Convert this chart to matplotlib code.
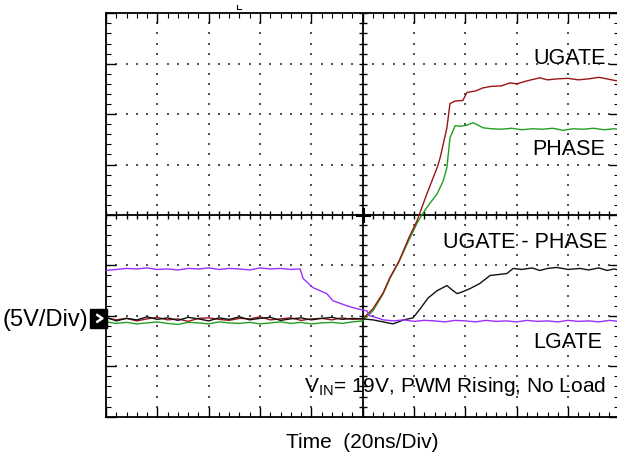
import numpy as np
import matplotlib.pyplot as plt
from matplotlib.patches import Rectangle

plt.rcParams['font.family'] = ['Liberation Sans', 'DejaVu Sans']
plt.rcParams['mathtext.fontset'] = 'custom'
plt.rcParams['mathtext.rm'] = 'Liberation Sans'

# traces, in scope divisions (x: 0..10, y: -4..4)
t_flat = [0.0, 0.2, 0.4, 0.6, 0.8, 1.0, 1.2, 1.4, 1.6, 1.8, 2.0, 2.2, 2.4,
          2.6, 2.8, 3.0, 3.2, 3.4, 3.6, 3.8, 4.0, 4.2, 4.4, 4.6, 4.8, 5.0]

ugate_t = t_flat + [5.2, 5.4, 5.53, 5.71, 5.9, 6.06, 6.25, 6.45, 6.51, 6.64, 6.70,
                    6.8, 6.95, 7.03, 7.2, 7.34, 7.5, 7.7, 7.87, 8.0, 8.2, 8.45, 8.6,
                    8.8, 9.0, 9.2, 9.4, 9.6, 9.8, 10.0]
ugate_v = [-2.04, -2.08, -2.05, -2.10, -2.06, -2.03, -2.08, -2.06, -2.11, -2.05,
           -2.04, -2.07, -2.09, -2.05, -2.06, -2.02, -2.08, -2.06, -2.04, -2.09,
           -2.06, -2.05, -2.08, -2.04, -2.07, -2.06,
           -1.86, -1.54, -1.24, -0.91, -0.45, -0.11, 0.42, 0.94, 1.14, 1.73, 2.21,
           2.26, 2.27, 2.43, 2.46, 2.52, 2.55, 2.56, 2.62, 2.60, 2.66, 2.72, 2.68,
           2.70, 2.71, 2.68, 2.70, 2.73, 2.69, 2.65]

phase_t = t_flat + [5.2, 5.4, 5.53, 5.71, 5.9, 6.06, 6.17, 6.3, 6.45, 6.57, 6.64,
                    6.70, 6.80, 6.9, 7.03, 7.15, 7.25, 7.34, 7.5, 7.7, 7.9, 8.1,
                    8.3, 8.5, 8.7, 8.9, 9.1, 9.3, 9.5, 9.7, 9.9, 10.0]
phase_v = [-2.12, -2.15, -2.13, -2.16, -2.14, -2.12, -2.15, -2.17, -2.13, -2.14,
           -2.16, -2.12, -2.14, -2.15, -2.13, -2.16, -2.14, -2.12, -2.15, -2.13,
           -2.16, -2.14, -2.13, -2.15, -2.12, -2.10,
           -1.90, -1.56, -1.26, -0.92, -0.50, -0.16, 0.03, 0.22, 0.42, 0.68, 0.94,
           1.53, 1.77, 1.76, 1.78, 1.83, 1.78, 1.73, 1.71, 1.70, 1.72, 1.69, 1.71,
           1.70, 1.72, 1.68, 1.71, 1.70, 1.72, 1.69, 1.71, 1.70]

diff_t = t_flat + [5.2, 5.4, 5.59, 5.8, 5.98, 6.12, 6.27, 6.45, 6.64, 6.76, 6.84,
                   6.95, 7.09, 7.28, 7.48, 7.65, 7.81, 7.93, 8.1, 8.3, 8.45, 8.6,
                   8.78, 9.0, 9.23, 9.4, 9.6, 9.76, 9.9, 10.0]
diff_v = [-2.03, -2.10, -2.05, -2.08, -2.02, -2.07, -2.04, -2.09, -2.03, -2.06,
          -2.10, -2.04, -2.07, -2.02, -2.08, -2.05, -2.03, -2.09, -2.06, -2.04,
          -2.08, -2.05, -2.03, -2.07, -2.05, -2.06,
          -2.08, -2.12, -2.16, -2.08, -2.04, -1.86, -1.65, -1.50, -1.40, -1.50,
          -1.56, -1.52, -1.46, -1.36, -1.20, -1.18, -1.16, -1.06, -1.08, -1.05,
          -1.10, -1.06, -1.04, -1.08, -1.06, -1.09, -1.05, -1.10, -1.07, -1.10]

lgate_t = t_flat[:19] + [3.78, 3.84, 4.03, 4.30, 4.42, 4.69, 4.89, 5.08, 5.14, 5.28,
                         5.4, 5.6, 5.8, 6.0, 6.2, 6.4, 6.6, 6.8, 7.0, 7.2, 7.4, 7.6,
                         7.8, 8.0, 8.2, 8.4, 8.6, 8.8, 9.0, 9.2, 9.4, 9.6, 9.8, 10.0]
lgate_v = [-1.10, -1.08, -1.06, -1.07, -1.05, -1.08, -1.07, -1.09, -1.06, -1.07,
           -1.05, -1.08, -1.06, -1.07, -1.09, -1.05, -1.07, -1.06, -1.08,
           -1.07, -1.26, -1.44, -1.56, -1.70, -1.80, -1.86, -1.90, -2.00, -2.04,
           -2.08, -2.10, -2.08, -2.11, -2.09, -2.10, -2.12, -2.09, -2.10, -2.12,
           -2.09, -2.11, -2.10, -2.12, -2.09, -2.11, -2.10, -2.12, -2.09, -2.11,
           -2.10, -2.12, -2.09, -2.11]

fig = plt.figure(figsize=(6.17, 4.58), dpi=100)
ax = fig.add_axes([0.1718, 0.0902, 0.8321, 0.8808])
ax.set_xlim(0, 10)
ax.set_ylim(-4, 4)

# dotted graticule
minor = np.arange(0, 10.01, 0.2)
minor_y = np.arange(-4, 4.01, 0.2)
for gx in [1, 2, 3, 4, 6, 7, 8, 9]:
    ax.scatter(np.full(len(minor_y), gx), minor_y, s=1.0, marker='s', color='#555555', lw=0, zorder=1)
for gy in [-3, -2, -1, 1, 2, 3]:
    ax.scatter(minor, np.full(len(minor), gy), s=1.0, marker='s', color='#555555', lw=0, zorder=1)

# centre cross with ticks
ax.axvline(5, color='black', lw=1.3, zorder=2)
ax.axhline(0, color='black', lw=1.3, zorder=2)
ax.vlines(minor, -0.075, 0.075, color='black', lw=1.0, zorder=2)
ax.hlines(minor_y, 5 - 0.08, 5 + 0.08, color='black', lw=1.0, zorder=2)
ax.plot([4.88, 5.12], [0, 0], color='black', lw=2.2, zorder=2)
ax.plot([5, 5], [-0.12, 0.12], color='black', lw=2.2, zorder=2)

# traces
ax.plot(phase_t, phase_v, color='#22a022', lw=1.0, zorder=3)
ax.plot(ugate_t, ugate_v, color='#9a1515', lw=1.0, zorder=4)
ax.plot(diff_t, diff_v, color='#111111', lw=1.0, zorder=5)
ax.plot(lgate_t, lgate_v, color='#9b30ff', lw=1.0, zorder=6)

# frame
for sp in ax.spines.values():
    sp.set_linewidth(1.3)
ax.set_xticks(np.arange(0, 11, 1))
ax.set_yticks(np.arange(-4, 5, 1))
ax.set_xticks(minor, minor=True)
ax.set_yticks(minor_y, minor=True)
ax.tick_params(which='both', direction='in', top=True, right=True,
               labelbottom=False, labelleft=False, color='black')
ax.tick_params(which='major', length=7.5, width=1.0)
ax.tick_params(which='minor', length=3.6, width=0.8)

# trigger position mark above the frame
ax.plot([2.55, 2.55, 2.63], [4.17, 4.08, 4.08], color='black', lw=0.8, clip_on=False)

# labels
fs = 15.5
ax.text(9.74, 3.0, 'UGATE', ha='right', va='baseline', fontsize=fs, zorder=7)
ax.text(9.72, 1.18, 'PHASE', ha='right', va='baseline', fontsize=fs, zorder=7)
ax.text(9.76, -0.65, 'UGATE - PHASE', ha='right', va='baseline', fontsize=fs, zorder=7)
ax.text(9.66, -2.63, 'LGATE', ha='right', va='baseline', fontsize=fs, zorder=7)
ax.text(9.74, -3.52, r'V$_\mathrm{IN}$= 19V, PWM Rising, No Load', ha='right',
        va='baseline', fontsize=15, zorder=7)
ax.text(5.0, -4.62, 'Time  (20ns/Div)', ha='center', va='baseline', fontsize=15,
        clip_on=False)
ax.text(-0.35, -2.20, '(5V/Div)', ha='right', va='baseline', fontsize=17, clip_on=False)

# ground marker
ax.add_patch(Rectangle((-0.31, -2.236), 0.33, 0.377, color='black', clip_on=False, zorder=8))
ax.plot([-0.19, -0.07, -0.19], [-1.97, -2.05, -2.13], color='white', lw=1.8,
        clip_on=False, zorder=9, solid_capstyle='butt')

fig.savefig('out.png', dpi=100)
